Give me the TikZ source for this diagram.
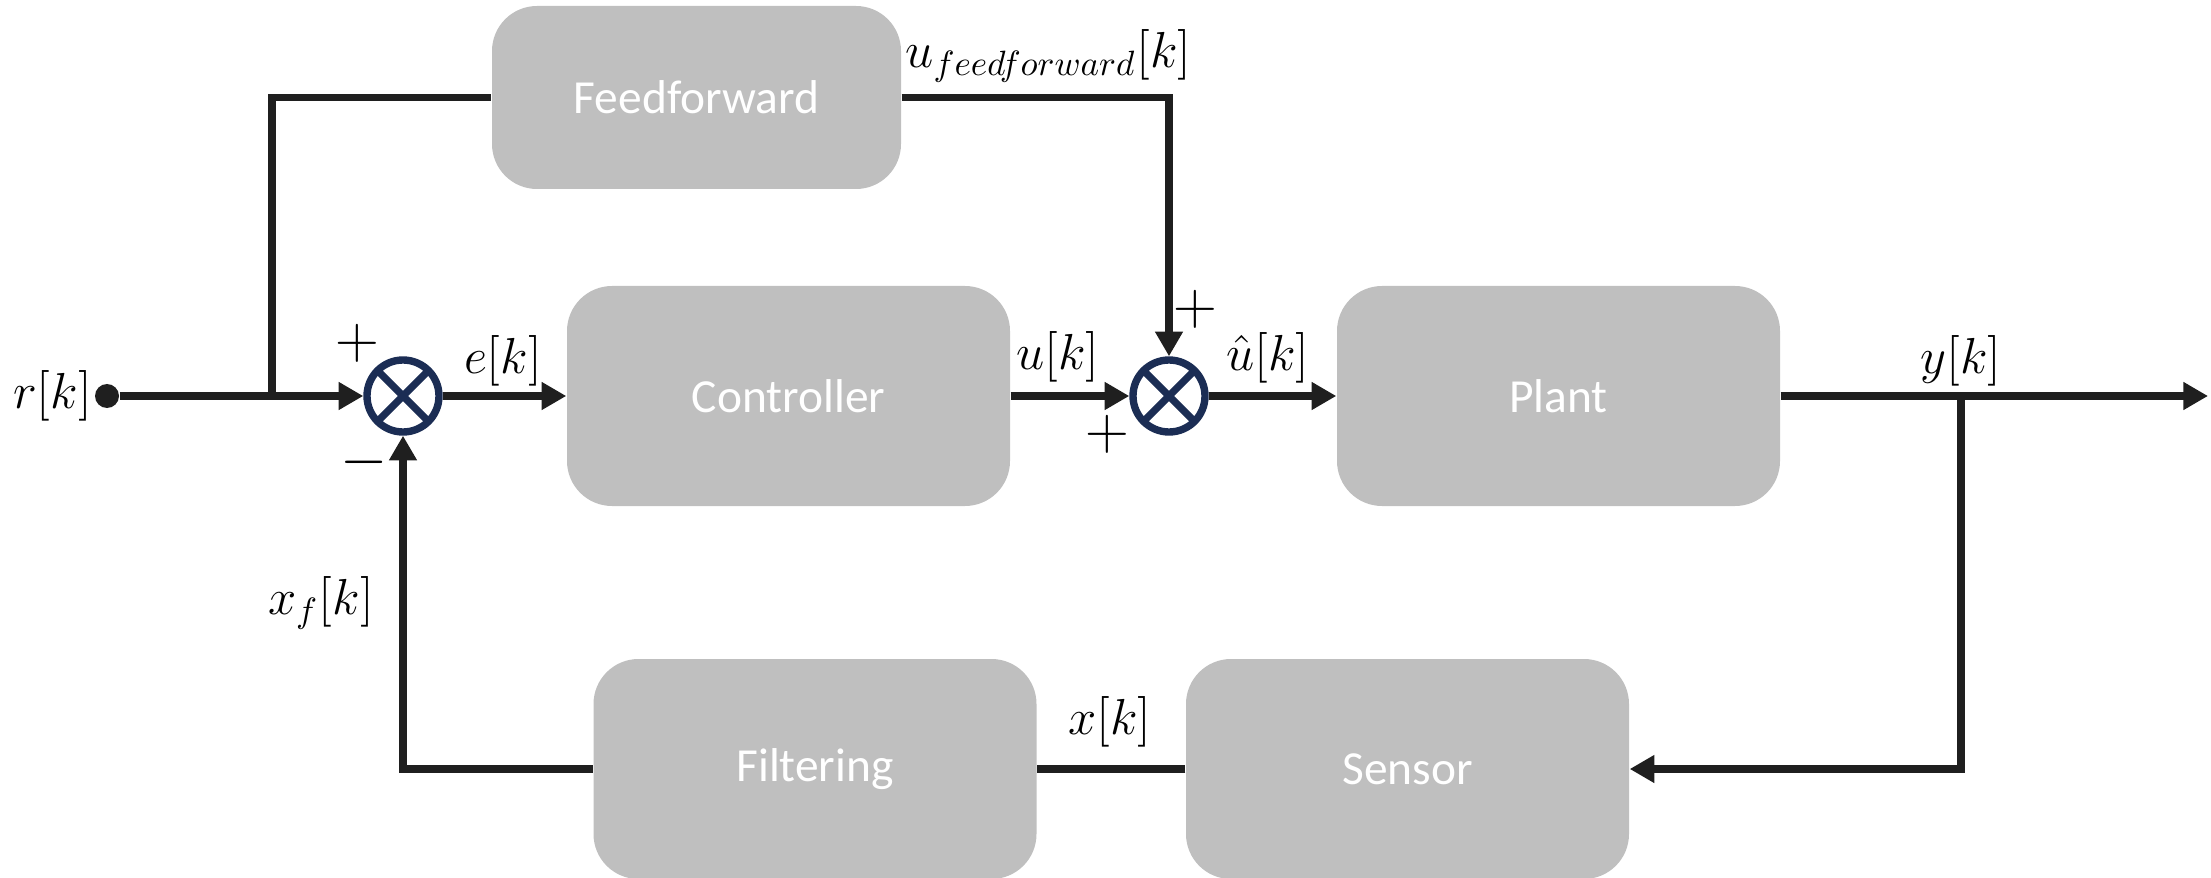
\documentclass[tikz,border=0pt]{standalone}
\usepackage{fontspec}
\setsansfont{Carlito}
\usetikzlibrary{arrows.meta,positioning,calc}
\definecolor{boxgray}{HTML}{BFBFBF}
\definecolor{navy}{HTML}{1B2D54}
\definecolor{wire}{HTML}{1F1F1F}
\tikzset{
  blockbox/.style={
    rectangle, rounded corners=0.45cm, fill=boxgray, text=white,
    minimum width=4.43cm, minimum height=2.2cm,
    font=\fontsize{13.5}{16}\selectfont\sffamily
  },
  sumnode/.style={
    circle, draw=navy, line width=2.1pt,
    minimum size=0.72cm, inner sep=0pt,
    path picture={
      \draw[navy, line width=2.1pt]
        (path picture bounding box.north west) -- (path picture bounding box.south east)
        (path picture bounding box.north east) -- (path picture bounding box.south west);
    }
  },
  sigarrow/.style={
    -{Triangle[length=7pt,width=7.5pt]}, line width=2.1pt, draw=wire
  },
  wireline/.style={line width=2.1pt, draw=wire},
  siglabel/.style={font=\fontsize{14}{16}\selectfont, inner sep=0.5pt},
  signlabel/.style={font=\fontsize{16}{18}\selectfont, inner sep=0pt},
}

\begin{document}
\begin{tikzpicture}
\useasboundingbox (0,0) rectangle (22.11,8.77);
% blocks
\node[blockbox, minimum width=4.09cm, minimum height=1.83cm] (ff) at (6.965,7.795) {Feedforward};
\node[blockbox] (ctrl) at (7.885,4.81) {Controller};
\node[blockbox] (plant) at (15.585,4.81) {Plant};
\node[blockbox] (filt) at (8.15,1.08) {Filtering};
\node[blockbox] (sens) at (14.075,1.08) {Sensor};
% summing junctions
\node[sumnode] (sum1) at (4.03,4.81) {};
\node[sumnode] (sum2) at (11.69,4.81) {};
% reference input and branch points
\node[circle, fill=wire, inner sep=0pt, minimum size=0.24cm] (ref) at (1.07,4.81) {};
\node[siglabel, left=0pt of ref] (reflbl) {$r[k]$};
\coordinate (refsplit) at (2.72,4.81);
\coordinate (ysplit) at (19.61,4.81);
\coordinate (yout) at (22.08,4.81);

% forward path
\draw[sigarrow] (ref) -- (sum1.west);
\draw[sigarrow] (sum1.east) -- (ctrl.west);
\draw[sigarrow] (ctrl.east) -- (sum2.west);
\draw[sigarrow] (sum2.east) -- (plant.west);
\draw[sigarrow] (plant.east) -- (yout);
% feedforward branch
\draw[wireline] (refsplit) |- (ff.west);
\draw[sigarrow] (ff.east) -| (sum2.north);
% feedback path
\draw[sigarrow] (ysplit) |- (sens.east);
\draw[wireline] (sens.west) -- (filt.east);
\draw[sigarrow] (filt.west) -| (sum1.south);

% signal names
\node[siglabel] (elbl) at (5.03,5.16) {$e[k]$};
\node[siglabel] (ulbl) at (10.58,5.20) {$u[k]$};
\node[siglabel] (uhatlbl) at (12.68,5.19) {$\hat{u}[k]$};
\node[siglabel] (ylbl) at (19.61,5.16) {$y[k]$};
\node[siglabel] (xlbl) at (11.10,1.55) {$x[k]$};
\node[siglabel] (xflbl) at (3.21,2.74) {$x_f[k]$};
\node[siglabel, anchor=west] (uffl) at (9.03,8.21) {$u_{feedforward}[k]$};
% signs
\node[signlabel] (p1) at (3.57,5.34) {$+$};
\node[signlabel] (m1) at (3.64,4.15) {$-$};
\node[signlabel] (p2) at (11.95,5.68) {$+$};
\node[signlabel] (p3) at (11.07,4.43) {$+$};
\end{tikzpicture}
\end{document}
